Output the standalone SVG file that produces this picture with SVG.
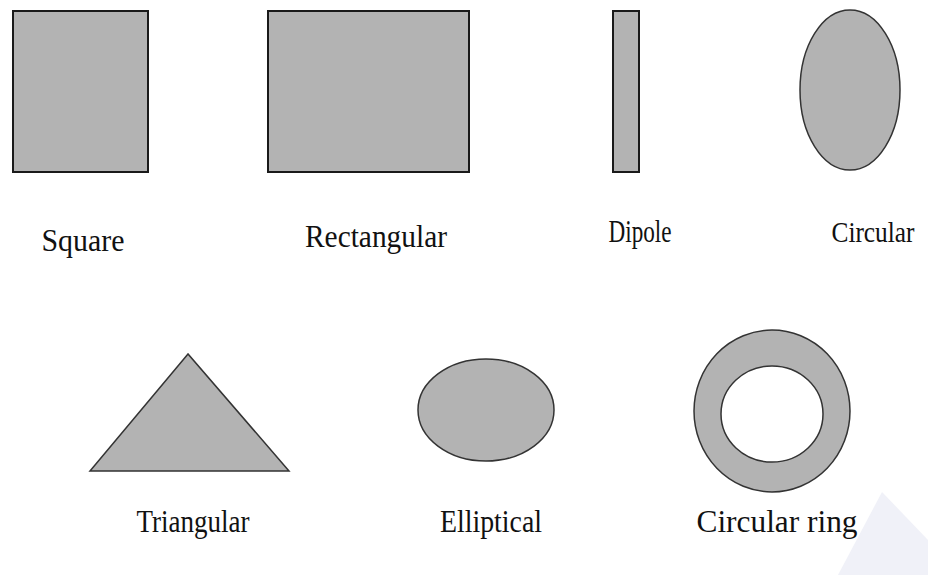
<svg xmlns="http://www.w3.org/2000/svg" width="928" height="575" viewBox="0 0 928 575">
<style>
.shape{fill:#b3b3b3;stroke:#1a1a1a;stroke-width:2}
.curve{fill:#b3b3b3;stroke:#333;stroke-width:1.5}
.hole{fill:#fff;stroke:#333;stroke-width:1.5}
.lbl{font-family:"Liberation Serif","Times New Roman",serif;font-size:32px;fill:#111;text-anchor:middle}
</style>
<rect width="928" height="575" fill="#fff"/>
<polygon points="838,575 882,492 928,540 928,575" fill="#f0f1f8"/>
<g id="square"><rect class="shape" x="13" y="11" width="135" height="161"/><text class="lbl" x="83" y="251" textLength="83" lengthAdjust="spacingAndGlyphs">Square</text></g>
<g id="rectangular"><rect class="shape" x="268" y="11" width="201" height="161"/><text class="lbl" x="376" y="247" textLength="142" lengthAdjust="spacingAndGlyphs">Rectangular</text></g>
<g id="dipole"><rect class="shape" x="613" y="11" width="26" height="161"/><text class="lbl" x="640" y="242" textLength="63" lengthAdjust="spacingAndGlyphs">Dipole</text></g>
<g id="circular"><ellipse class="curve" cx="850" cy="90" rx="50" ry="80"/><text class="lbl" x="873" y="242" font-size="30" textLength="83" lengthAdjust="spacingAndGlyphs" style="font-size:30px">Circular</text></g>
<g id="triangular"><polygon class="curve" points="188,354 90,471 289,471"/><text class="lbl" x="193" y="532" textLength="113" lengthAdjust="spacingAndGlyphs">Triangular</text></g>
<g id="elliptical"><ellipse class="curve" cx="486" cy="410" rx="68" ry="51"/><text class="lbl" x="491" y="532" textLength="102" lengthAdjust="spacingAndGlyphs">Elliptical</text></g>
<g id="circular-ring"><ellipse class="curve" cx="772" cy="411" rx="78" ry="81"/><ellipse class="hole" cx="772" cy="414" rx="51" ry="48"/><text class="lbl" x="777" y="532" textLength="161" lengthAdjust="spacingAndGlyphs">Circular ring</text></g>
<g id="connectors"/>
</svg>
